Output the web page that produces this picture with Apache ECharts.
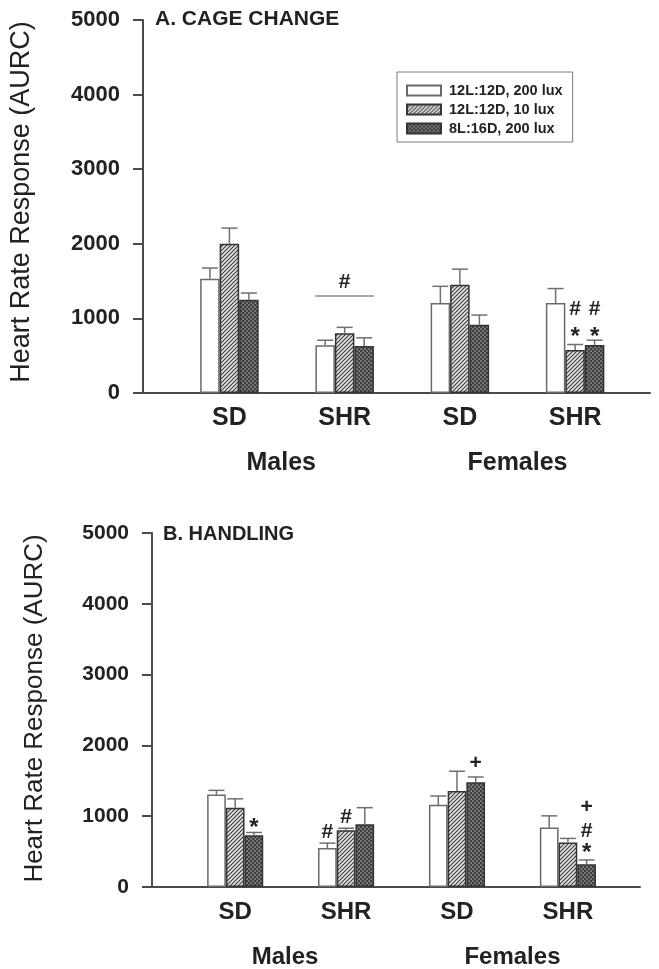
<!DOCTYPE html>
<html><head><meta charset="utf-8">
<script src="https://cdn.jsdelivr.net/npm/echarts@6/dist/echarts.min.js"></script>
<style>html,body{margin:0;padding:0;background:#fff}#c{width:659px;height:969px}</style>
</head><body><div id="c"></div>
<script>
// ---------- data ----------
const strains = ['SD', 'SHR', 'SD', 'SHR'];
const sexes = ['Males', 'Females'];
const seriesNames = ['12L:12D, 200 lux', '12L:12D, 10 lux', '8L:16D, 200 lux'];
const yTicks = [0, 1000, 2000, 3000, 4000, 5000];
const panelTitles = ['A. CAGE CHANGE', 'B. HANDLING'];
const yTitle = 'Heart Rate Response (AURC)';

// Panel A: cage change (rows = lighting condition, cols = Male SD, Male SHR, Female SD, Female SHR)
const cageMean = [
  [1530, 640, 1205, 1205],
  [2000, 800, 1450, 575],
  [1250, 630, 915, 645]
];
const cageErr = [
  [145, 67, 225, 195],
  [210, 80, 210, 75],
  [90, 110, 130, 63]
];
// Panel B: handling
const handMean = [
  [1305, 550, 1160, 840],
  [1120, 800, 1355, 630],
  [730, 885, 1480, 320]
];
const handErr = [
  [60, 70, 125, 165],
  [125, 30, 280, 56],
  [40, 235, 74, 62]
];
// significance marks: [group, bar, value, symbol]
const cageMarks = [[3, 1, 1120, '#'], [3, 2, 1120, '#'], [3, 1, 820, '*'], [3, 2, 820, '*']];
// group bracket: [group, line value, symbol value, symbol]
const cageBrackets = [[1, 1300, 1490, '#']];
const handMarks = [[0, 2, 896, '*'], [1, 0, 770, '#'], [1, 1, 980, '#'], [2, 2, 1750, '+'], [3, 2, 1130, '+'], [3, 2, 793, '#'], [3, 2, 550, '*']];
const handBrackets = [];

// ---------- styles ----------
const FONT = '"Liberation Sans", Arial, Helvetica, sans-serif';
const TXT = '#222';
const AX = '#4a4a4a';
const GX = 0.75;   // group centre offset on the x scale
const XMAX = 4.4;

function hatchPattern() {
  const c = document.createElement('canvas'); c.width = 4; c.height = 4;
  const g = c.getContext('2d');
  g.fillStyle = '#e4e4e4'; g.fillRect(0, 0, 4, 4);
  g.strokeStyle = '#3a3a3a'; g.lineWidth = 1.1;
  g.beginPath();
  g.moveTo(-1, 1); g.lineTo(1, -1);
  g.moveTo(0, 4); g.lineTo(4, 0);
  g.moveTo(3, 5); g.lineTo(5, 3);
  g.stroke();
  return c;
}
function dotPattern() {
  const c = document.createElement('canvas'); c.width = 4; c.height = 4;
  const g = c.getContext('2d');
  g.fillStyle = '#3e3e3e'; g.fillRect(0, 0, 4, 4);
  g.fillStyle = '#d8d8d8';
  g.fillRect(0.5, 0.5, 1.2, 1.2);
  g.fillRect(2.5, 2.5, 1.2, 1.2);
  return c;
}
const fills = [
  { color: '#ffffff', borderColor: '#6a6a6a' },
  { color: { image: hatchPattern(), repeat: 'repeat' }, borderColor: '#333' },
  { color: { image: dotPattern(), repeat: 'repeat' }, borderColor: '#333' }
];

function errRender(items, bw) {
  return function (params, api) {
    const it = items[params.dataIndex];
    const g = it[0], b = it[1], m = it[2], e = it[3];
    const p0 = api.coord([g + GX, m]);
    const p1 = api.coord([g + GX, m + e]);
    const x = p0[0] + (b - 1) * bw;
    const cw = 8;
    return {
      type: 'group', children: [
        { type: 'line', shape: { x1: x, y1: p0[1], x2: x, y2: p1[1] }, style: { stroke: '#707070', lineWidth: 1.5 } },
        { type: 'line', shape: { x1: x - cw, y1: p1[1], x2: x + cw, y2: p1[1] }, style: { stroke: '#707070', lineWidth: 1.5 } }
      ]
    };
  };
}
function markRender(items, bw) {
  return function (params, api) {
    const it = items[params.dataIndex];
    const p = api.coord([it[0] + GX, it[2]]);
    const x = p[0] + (it[1] - 1) * bw;
    const star = it[3] === '*';
    const fs = star ? 24 : 21;
    return {
      type: 'text', x: x, y: p[1] + (star ? 0.22 * fs : 0),
      style: { text: it[3], fill: TXT, font: 'bold ' + fs + 'px ' + FONT, align: 'center', verticalAlign: 'middle' }
    };
  };
}
function bracketRender(items, bw) {
  return function (params, api) {
    const it = items[params.dataIndex];
    const pl = api.coord([it[0] + GX, it[1]]);
    const pt = api.coord([it[0] + GX, it[2]]);
    const hw = bw * 1.5;
    return {
      type: 'group', children: [
        { type: 'line', shape: { x1: pl[0] - hw, y1: pl[1], x2: pl[0] + hw, y2: pl[1] }, style: { stroke: '#8a8a8a', lineWidth: 1.5 } },
        { type: 'text', x: pt[0], y: pt[1], style: { text: it[3], fill: TXT, font: 'bold 21px ' + FONT, align: 'center', verticalAlign: 'middle' } }
      ]
    };
  };
}

function near(v, t) { return Math.abs(v - t) < 1e-6; }
function strainLabel(v) {
  for (let i = 0; i < strains.length; i++) if (near(v, i + GX)) return strains[i];
  return '';
}
const sexPos = [1.2, 3.25];
function sexLabel(v) {
  for (let i = 0; i < sexes.length; i++) if (near(v, sexPos[i])) return sexes[i];
  return '';
}

const panels = [
  { mean: cageMean, err: cageErr, marks: cageMarks, brackets: cageBrackets,
    grid: { left: 143, right: 9, top: 20, bottom: 576 }, bw: 19.5, lab: 22, xlab: 25, ytitle: 27, nameGap: 108, namePad: [0, 0, 0, 9] },
  { mean: handMean, err: handErr, marks: handMarks, brackets: handBrackets,
    grid: { left: 152, right: 19, top: 533, bottom: 79 }, bw: 18.7, lab: 21, xlab: 24, ytitle: 26, nameGap: 104, namePad: [0, 0, 0, 3] }
];

const option = {
  animation: false,
  backgroundColor: '#fff',
  title: [
    { text: panelTitles[0], left: 155, top: 9, padding: 0, textStyle: { fontFamily: FONT, fontWeight: 'bold', fontSize: 21, color: TXT } },
    { text: panelTitles[1], left: 163, top: 524, padding: 0, textStyle: { fontFamily: FONT, fontWeight: 'bold', fontSize: 20, color: TXT } }
  ],
  legend: {
    data: seriesNames, orient: 'vertical', left: 397, top: 72,
    padding: [11, 10, 6, 9], itemGap: 4, itemWidth: 34, itemHeight: 10, icon: 'rect',
    borderColor: '#7a7a7a', borderWidth: 1,
    textStyle: { fontFamily: FONT, fontWeight: 'bold', fontSize: 14.5, color: TXT, padding: [0, 0, 0, 3], lineHeight: 15 }
  },
  grid: [], xAxis: [], yAxis: [], series: []
};

panels.forEach((P, pi) => {
  option.grid.push(Object.assign({ containLabel: false }, P.grid));
  option.xAxis.push({
    type: 'value', gridIndex: pi, min: 0, max: XMAX, interval: 0.25,
    axisLine: { show: true, onZero: false, lineStyle: { color: AX, width: 2 } },
    axisTick: { show: false }, splitLine: { show: false },
    axisLabel: { formatter: strainLabel, margin: 13, fontFamily: FONT, fontWeight: 'bold', fontSize: P.xlab, color: TXT, showMinLabel: true, showMaxLabel: true }
  });
  option.xAxis.push({
    type: 'value', gridIndex: pi, min: 0, max: XMAX, interval: 0.05, position: 'bottom', offset: 47,
    axisLine: { show: false }, axisTick: { show: false }, splitLine: { show: false },
    axisLabel: { formatter: sexLabel, margin: 11, fontFamily: FONT, fontWeight: 'bold', fontSize: P.xlab, color: TXT }
  });
  option.yAxis.push({
    type: 'value', gridIndex: pi, min: yTicks[0], max: yTicks[yTicks.length - 1], interval: 1000,
    name: yTitle, nameLocation: 'middle', nameRotate: 90, nameGap: P.nameGap,
    nameTextStyle: { fontFamily: FONT, fontSize: P.ytitle, color: TXT, padding: P.namePad },
    axisLine: { show: true, lineStyle: { color: AX, width: 2 } },
    axisTick: { show: true, inside: false, length: 10, lineStyle: { color: AX, width: 2 } },
    splitLine: { show: false },
    axisLabel: { formatter: v => String(v), margin: 23, fontFamily: FONT, fontWeight: 'bold', fontSize: P.lab, color: TXT }
  });
  const xi = pi * 2;
  seriesNames.forEach((name, s) => {
    option.series.push({
      type: 'bar', name: name, xAxisIndex: xi, yAxisIndex: pi,
      barWidth: P.bw, barGap: '0%',
      itemStyle: { color: fills[s].color, borderColor: fills[s].borderColor, borderWidth: 1.5 },
      data: strains.map((_, g) => [g + GX, P.mean[s][g]])
    });
  });
  const errItems = [];
  seriesNames.forEach((_, s) => strains.forEach((_, g) => errItems.push([g, s, P.mean[s][g], P.err[s][g]])));
  option.series.push({
    type: 'custom', xAxisIndex: xi, yAxisIndex: pi, renderItem: errRender(errItems, P.bw),
    data: errItems.map(it => [it[0] + GX, it[2] + it[3]]), z: 3, silent: true
  });
  option.series.push({
    type: 'custom', xAxisIndex: xi, yAxisIndex: pi, renderItem: markRender(P.marks, P.bw),
    data: P.marks.map(it => [it[0] + GX, it[2]]), z: 4, silent: true
  });
  if (P.brackets.length) {
    option.series.push({
      type: 'custom', xAxisIndex: xi, yAxisIndex: pi, renderItem: bracketRender(P.brackets, P.bw),
      data: P.brackets.map(it => [it[0] + GX, it[2]]), z: 4, silent: true
    });
  }
});

const chart = echarts.init(document.getElementById('c'), null, { renderer: 'canvas' });
chart.setOption(option);
</script>
</body></html>
